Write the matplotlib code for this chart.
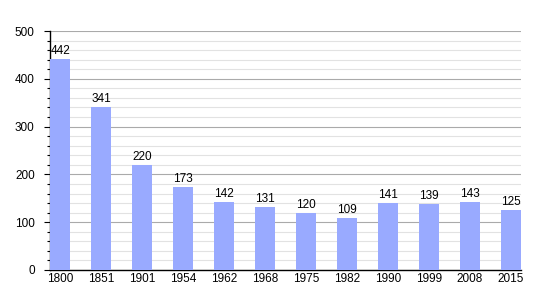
import matplotlib
matplotlib.use("Agg")
import matplotlib.pyplot as plt
from matplotlib.ticker import MultipleLocator

plt.rcParams["font.family"] = ["Liberation Sans", "DejaVu Sans"]

years = ["1800", "1851", "1901", "1954", "1962", "1968", "1975", "1982", "1990", "1999", "2008", "2015"]
population = [442, 341, 220, 173, 142, 131, 120, 109, 141, 139, 143, 125]

fig = plt.figure(figsize=(5.5, 3.0), dpi=100)
ax = fig.add_axes([50/550, 30/300, 471/550, 239/300])

x = range(len(years))
ax.bar(x, population, width=0.5, color="#99aaff", zorder=3)
for xi, v in zip(x, population):
    ax.text(xi, v + 4, str(v), ha="center", va="bottom", fontsize=8.5, zorder=4)

ax.set_xlim(-0.25, len(years) - 0.75)
ax.set_ylim(0, 500)
ax.set_xticks(list(x))
ax.set_xticklabels(years, fontsize=8.5)
ax.yaxis.set_major_locator(MultipleLocator(100))
ax.yaxis.set_minor_locator(MultipleLocator(20))
ax.tick_params(axis="y", which="major", length=4, width=0.8, labelsize=8.5, pad=7)
ax.tick_params(axis="y", which="minor", length=2, width=0.8)
ax.tick_params(axis="x", length=0, pad=2)
ax.grid(axis="y", which="major", color="#aaaaaa", linewidth=0.8, zorder=1)
ax.grid(axis="y", which="minor", color="#e2e2e2", linewidth=0.8, zorder=1)
for s in ["top", "right"]:
    ax.spines[s].set_visible(False)
ax.spines["left"].set_linewidth(1)
ax.spines["bottom"].set_linewidth(1)

fig.savefig("out.png", dpi=100)
